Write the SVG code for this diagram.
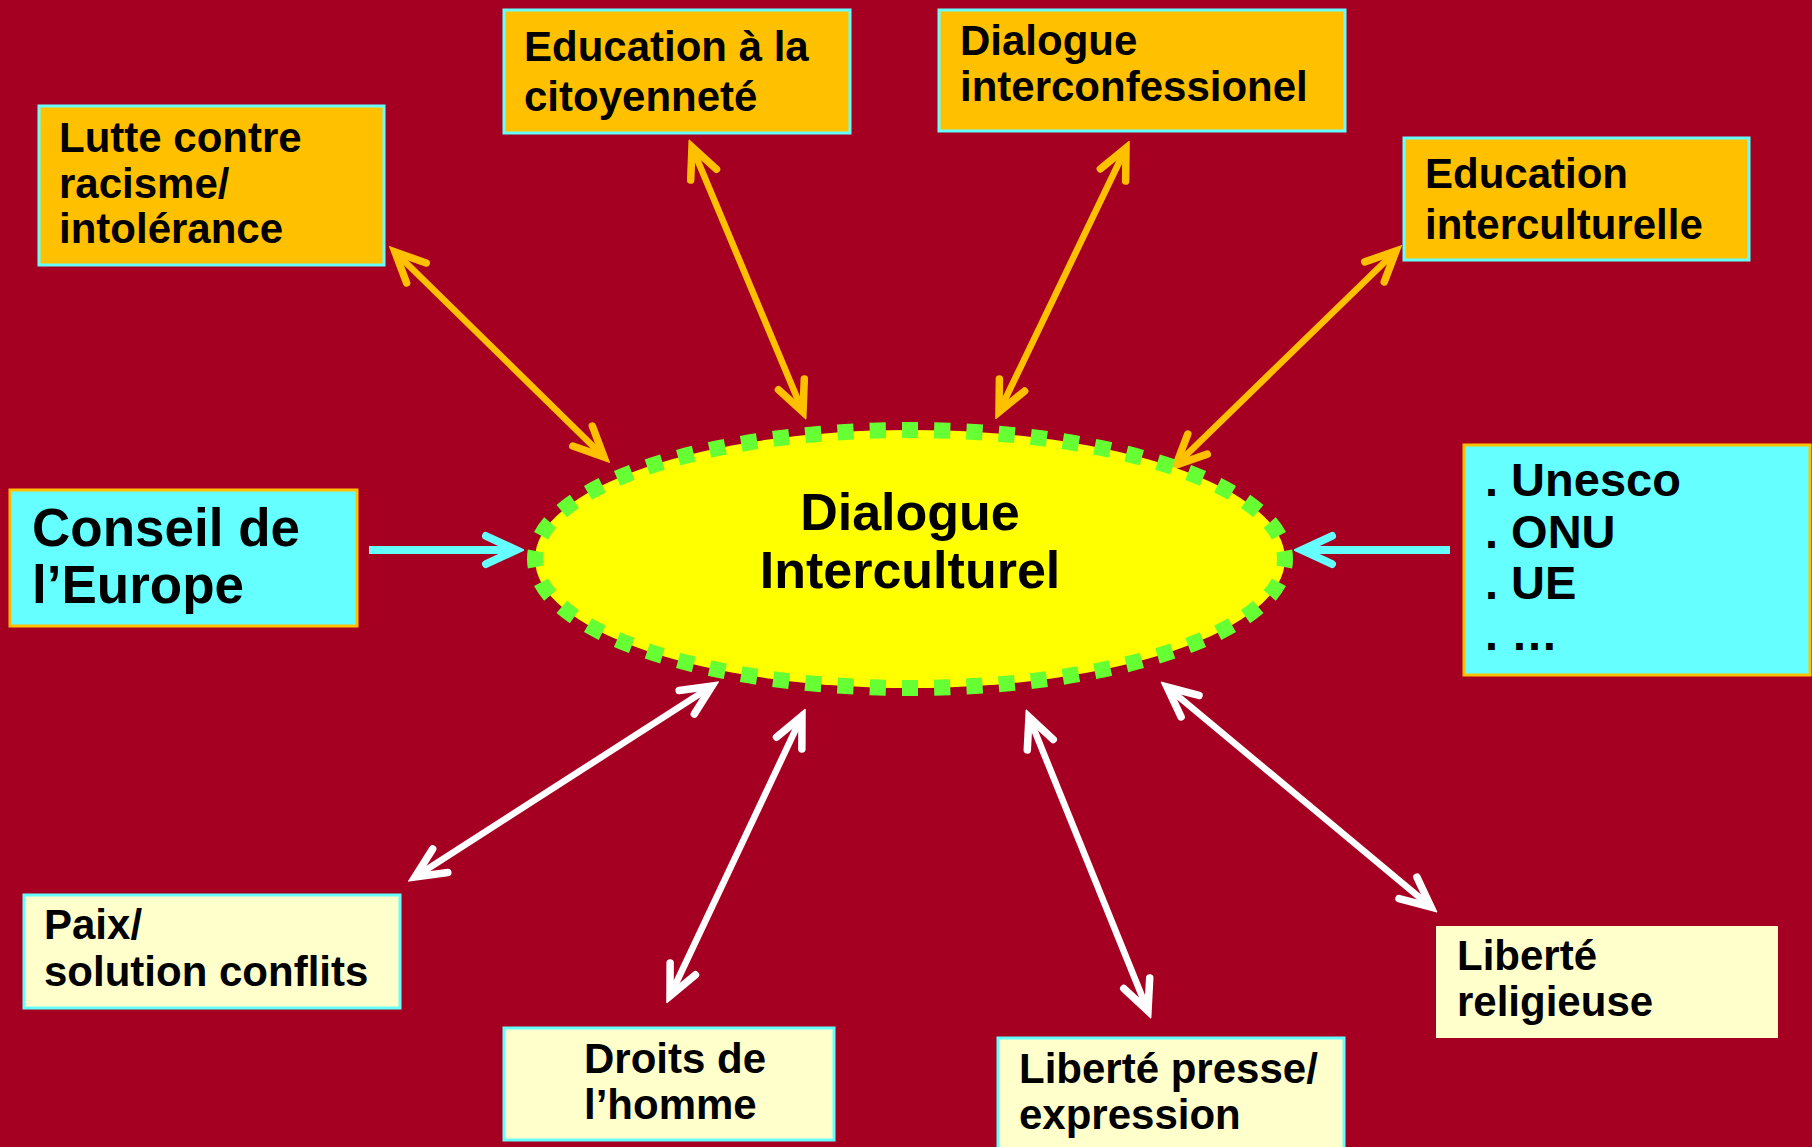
<svg xmlns="http://www.w3.org/2000/svg" width="1812" height="1147" viewBox="0 0 1812 1147">
<style>
  text { font-family: "Liberation Sans", Arial, sans-serif; font-weight: bold; fill: #000; }
  .t42 { font-size: 42px; }
  .orangebox { fill: #FFC000; stroke: #66FFFF; stroke-width: 3; }
  .cyanbox { fill: #66FFFF; stroke: #FFC000; stroke-width: 3; }
  .creambox { fill: #FFFFCC; stroke: #66FFFF; stroke-width: 3; }
  .ao { stroke: #FFC000; stroke-width: 6.5; fill: none; marker-start: url(#mo); marker-end: url(#mo); }
  .aw { stroke: #FFFFFF; stroke-width: 6.5; fill: none; marker-start: url(#mw); marker-end: url(#mw); }
  .ac { stroke: #66FFFF; stroke-width: 8; fill: none; marker-end: url(#mc); }
</style>
<defs>
  <marker id="mo" markerUnits="userSpaceOnUse" viewBox="-40 -24 48 48" refX="0" refY="0" markerWidth="48" markerHeight="48" orient="auto-start-reverse">
    <path d="M-30,-14 L0,0 L-30,14" fill="none" stroke="#FFC000" stroke-width="7.5" stroke-linecap="round" stroke-linejoin="miter"/>
  </marker>
  <marker id="mw" markerUnits="userSpaceOnUse" viewBox="-40 -24 48 48" refX="0" refY="0" markerWidth="48" markerHeight="48" orient="auto-start-reverse">
    <path d="M-30,-14 L0,0 L-30,14" fill="none" stroke="#FFFFFF" stroke-width="7.5" stroke-linecap="round" stroke-linejoin="miter"/>
  </marker>
  <marker id="mc" markerUnits="userSpaceOnUse" viewBox="-40 -24 48 48" refX="0" refY="0" markerWidth="48" markerHeight="48" orient="auto">
    <path d="M-30,-14 L0,0 L-30,14" fill="none" stroke="#66FFFF" stroke-width="8" stroke-linecap="round" stroke-linejoin="miter"/>
  </marker>
</defs>
<rect x="0" y="0" width="1812" height="1147" fill="#A50021"/>

<g id="connectors">
  <line class="ao" x1="395" y1="252" x2="604" y2="457"/>
  <line class="ao" x1="692" y1="147" x2="803" y2="412"/>
  <line class="ao" x1="1126" y1="148" x2="999" y2="412"/>
  <line class="ao" x1="1396" y1="251" x2="1176" y2="465"/>
  <line class="aw" x1="712" y1="686" x2="415" y2="877"/>
  <line class="aw" x1="802" y1="716" x2="670" y2="996"/>
  <line class="aw" x1="1029" y1="717" x2="1148" y2="1011"/>
  <line class="aw" x1="1167" y1="687" x2="1431" y2="907"/>
  <line class="ac" x1="369" y1="550" x2="516" y2="550"/>
  <line class="ac" x1="1450" y1="550" x2="1302" y2="550"/>
</g>

<g id="center">
  <ellipse cx="910" cy="559" rx="375" ry="129" fill="#FFFF00" stroke="#66FF33" stroke-width="16" pathLength="104" stroke-dasharray="1 1" stroke-dashoffset="0.5"/>
  <text x="910" y="530" font-size="52" text-anchor="middle">Dialogue</text>
  <text x="910" y="588" font-size="52" text-anchor="middle">Interculturel</text>
</g>

<g id="lutte">
  <rect class="orangebox" x="39" y="106" width="345" height="159"/>
  <text class="t42" x="59" y="152">Lutte contre</text>
  <text class="t42" x="59" y="198">racisme/</text>
  <text class="t42" x="59" y="243">intolérance</text>
</g>

<g id="education-citoyennete">
  <rect class="orangebox" x="504" y="10" width="346" height="123"/>
  <text class="t42" x="524" y="61">Education à la</text>
  <text class="t42" x="524" y="111">citoyenneté</text>
</g>

<g id="dialogue-interconfessionel">
  <rect class="orangebox" x="939" y="10" width="406" height="121"/>
  <text class="t42" x="960" y="55">Dialogue</text>
  <text class="t42" x="960" y="101">interconfessionel</text>
</g>

<g id="education-interculturelle">
  <rect class="orangebox" x="1404" y="138" width="345" height="122"/>
  <text class="t42" x="1425" y="188">Education</text>
  <text class="t42" x="1425" y="239">interculturelle</text>
</g>

<g id="conseil">
  <rect class="cyanbox" x="10" y="490" width="347" height="136"/>
  <text x="32" y="546" font-size="53">Conseil de</text>
  <text x="32" y="603" font-size="53">l’Europe</text>
</g>

<g id="organisations">
  <rect class="cyanbox" x="1464" y="445" width="346" height="230"/>
  <text x="1485" y="496" font-size="47">. Unesco</text>
  <text x="1485" y="548" font-size="47">. ONU</text>
  <text x="1485" y="599" font-size="47">. UE</text>
  <text x="1485" y="650" font-size="47">. …</text>
</g>

<g id="paix">
  <rect class="creambox" x="24" y="895" width="376" height="113"/>
  <text class="t42" x="44" y="939">Paix/</text>
  <text class="t42" x="44" y="986">solution conflits</text>
</g>

<g id="droits">
  <rect class="creambox" x="504" y="1028" width="330" height="112"/>
  <text class="t42" x="584" y="1073">Droits de</text>
  <text class="t42" x="584" y="1119">l’homme</text>
</g>

<g id="liberte-presse">
  <rect class="creambox" x="998" y="1038" width="346" height="120"/>
  <text class="t42" x="1019" y="1083">Liberté presse/</text>
  <text class="t42" x="1019" y="1129">expression</text>
</g>

<g id="liberte-religieuse">
  <rect x="1436" y="926" width="342" height="112" fill="#FFFFCC"/>
  <text class="t42" x="1457" y="970">Liberté</text>
  <text class="t42" x="1457" y="1016">religieuse</text>
</g>
</svg>
